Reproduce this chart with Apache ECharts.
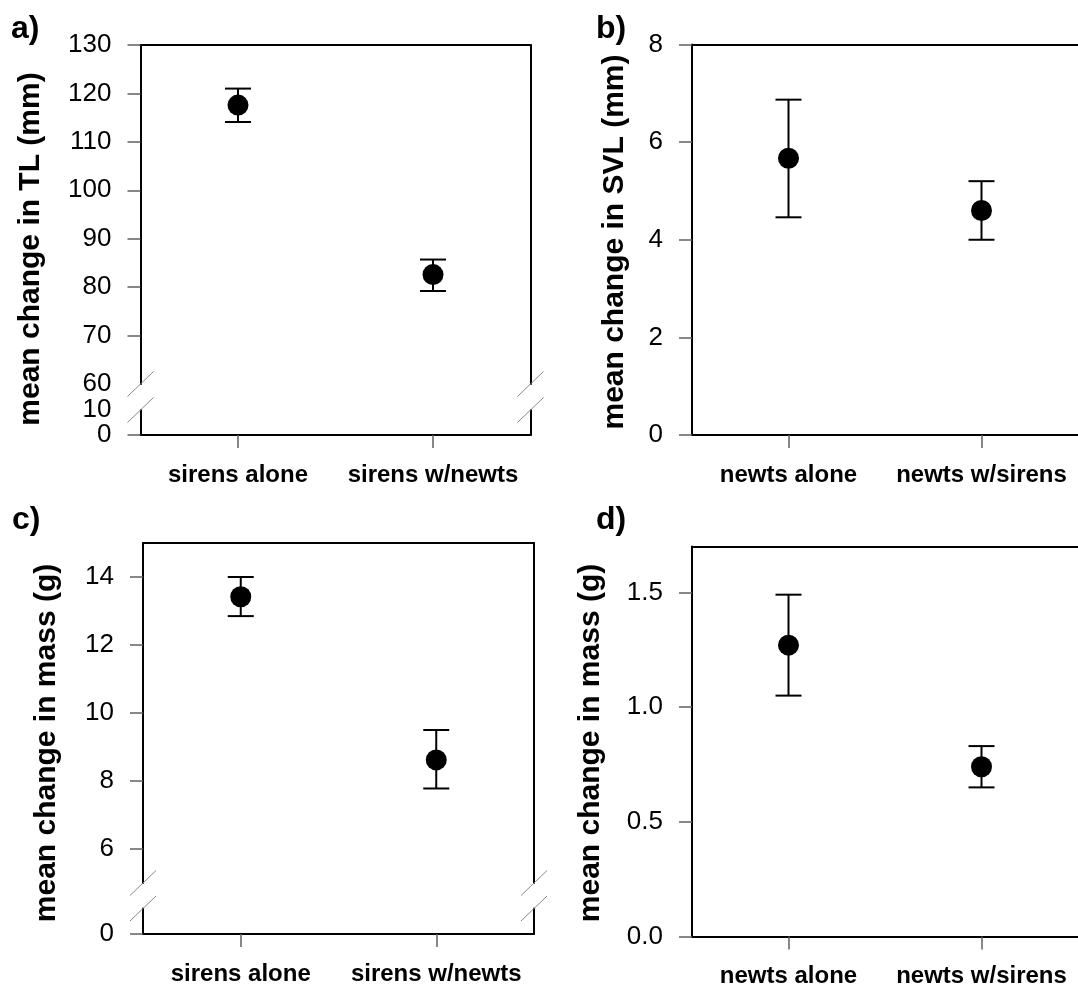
<!DOCTYPE html>
<html>
<head>
<meta charset="utf-8">
<script src="https://cdn.jsdelivr.net/npm/echarts@6/dist/echarts.min.js"></script>
<style>
  html, body { margin: 0; padding: 0; background: #fff; }
  #main { width: 1078px; height: 989px; }
</style>
</head>
<body>
<div id="main"></div>
<script>
// categories
var sirenCats = ['sirens alone', 'sirens w/newts'];
var newtCats = ['newts alone', 'newts w/sirens'];

// a) change in TL (mm), sirens
var tlMean = [117.6, 82.6];
var tlLow = [114.1, 79.2];
var tlHigh = [121.0, 85.7];
// b) change in SVL (mm), newts
var svlMean = [5.67, 4.6];
var svlLow = [4.46, 4.0];
var svlHigh = [6.87, 5.2];
// c) change in mass (g), sirens
var sirenMassMean = [13.42, 8.62];
var sirenMassLow = [12.85, 7.78];
var sirenMassHigh = [14.0, 9.5];
// d) change in mass (g), newts
var newtMassMean = [1.27, 0.74];
var newtMassLow = [1.05, 0.65];
var newtMassHigh = [1.49, 0.83];

// tick labels
var tlTicksUpper = [60, 70, 80, 90, 100, 110, 120, 130];
var tlTicksLower = [0, 10];
var svlTicks = [0, 2, 4, 6, 8];
var sirenMassTicksUpper = [6, 8, 10, 12, 14];
var sirenMassTicksLower = [0];
var newtMassTicks = [0, 0.5, 1.0, 1.5];

var FONT = '"Liberation Sans", Arial, sans-serif';
var tickColor = '#606060';

var chart = echarts.init(document.getElementById('main'), null, { renderer: 'canvas' });

// grid boxes (pixels)
var G = [
  { left: 140.5, top: 45, width: 390, height: 339 },   // a upper
  { left: 140.5, top: 410, width: 390, height: 25 },   // a lower
  { left: 692, top: 44.5, width: 390, height: 390.5 }, // b
  { left: 143, top: 543, width: 391, height: 340 },    // c upper
  { left: 143, top: 908.5, width: 391, height: 25.5 }, // c lower
  { left: 692, top: 546.5, width: 390, height: 390 }   // d
];

function borderX(gridIndex, cats, position) {
  return {
    type: 'category', gridIndex: gridIndex, data: cats, position: position,
    axisLine: { show: true, lineStyle: { color: '#000', width: 2 } },
    axisTick: { show: false }, axisLabel: { show: false }, splitLine: { show: false }
  };
}
function labelX(gridIndex, cats) {
  return {
    type: 'category', gridIndex: gridIndex, data: cats, position: 'bottom',
    axisLine: { show: true, lineStyle: { color: '#000', width: 2 } },
    axisTick: { show: true, alignWithLabel: true, interval: 0, length: 13, lineStyle: { color: tickColor, width: 1.5 } },
    axisLabel: { show: true, interval: 0, margin: 28, color: '#000', fontSize: 24, fontWeight: 'bold', fontFamily: FONT },
    splitLine: { show: false }
  };
}
function labelY(gridIndex, min, max, labels, ticks, fmt, noLine) {
  return {
    type: 'value', gridIndex: gridIndex, position: 'left', min: min, max: max,
    axisLine: { show: !noLine, lineStyle: { color: '#000', width: 2 } },
    axisTick: { show: ticks.length > 0, customValues: ticks, length: 13, lineStyle: { color: tickColor, width: 1.5 } },
    axisLabel: { show: true, customValues: labels, margin: 29, color: '#000', fontSize: 26, fontFamily: FONT,
      showMinLabel: true, showMaxLabel: true, hideOverlap: false,
      formatter: fmt || function (v) { return String(v); } },
    splitLine: { show: false }
  };
}
function borderY(gridIndex, min, max) {
  return {
    type: 'value', gridIndex: gridIndex, position: 'right', min: min, max: max,
    axisLine: { show: true, lineStyle: { color: '#000', width: 2 } },
    axisTick: { show: false }, axisLabel: { show: false }, splitLine: { show: false }
  };
}

function errorBars(xi, yi, low, high) {
  return {
    type: 'custom', xAxisIndex: xi, yAxisIndex: yi, z: 3,
    data: low.map(function (v, i) { return [i, v, high[i]]; }),
    encode: { x: 0, y: [1, 2] },
    renderItem: function (params, api) {
      var top = api.coord([api.value(0), api.value(2)]);
      var bot = api.coord([api.value(0), api.value(1)]);
      var half = 13;
      var st = { stroke: '#000', lineWidth: 2 };
      return {
        type: 'group', children: [
          { type: 'line', shape: { x1: top[0], y1: top[1], x2: bot[0], y2: bot[1] }, style: st },
          { type: 'line', shape: { x1: top[0] - half, y1: top[1], x2: top[0] + half, y2: top[1] }, style: st },
          { type: 'line', shape: { x1: bot[0] - half, y1: bot[1], x2: bot[0] + half, y2: bot[1] }, style: st }
        ]
      };
    }
  };
}
function means(xi, yi, vals) {
  return {
    type: 'scatter', xAxisIndex: xi, yAxisIndex: yi, z: 5,
    symbol: 'circle', symbolSize: 21, itemStyle: { color: '#000', opacity: 1 },
    data: vals.map(function (v, i) { return [i, v]; })
  };
}

// break slashes drawn on the box edges between split grids
function slashes(upper, lower) {
  var out = [];
  var xs = [upper.left, upper.left + upper.width];
  var ys = [upper.top + upper.height, lower.top];
  xs.forEach(function (cx) {
    ys.forEach(function (cy) {
      out.push({ type: 'line', z: 10,
        shape: { x1: cx - 13, y1: cy + 12.5, x2: cx + 13, y2: cy - 12.5 },
        style: { stroke: '#888', lineWidth: 1 } });
    });
  });
  return out;
}
function yName(text, cx, cy) {
  return { type: 'text', x: cx, y: cy, rotation: Math.PI / 2,
    style: { text: text, align: 'center', verticalAlign: 'middle', fill: '#000',
      font: 'bold 30px ' + FONT } };
}
function panelTag(text, x, y) {
  return { type: 'text', x: x, y: y,
    style: { text: text, align: 'left', verticalAlign: 'middle', fill: '#000', font: 'bold 32px ' + FONT } };
}

var fmt1 = function (v) { return v.toFixed(1); };

var option = {
  backgroundColor: '#fff',
  animation: false,
  grid: G,
  xAxis: [
    borderX(0, sirenCats, 'top'),   // 0
    labelX(1, sirenCats),           // 1
    labelX(2, newtCats),            // 2
    borderX(2, newtCats, 'top'),    // 3
    borderX(3, sirenCats, 'top'),   // 4
    labelX(4, sirenCats),           // 5
    labelX(5, newtCats),            // 6
    borderX(5, newtCats, 'top')     // 7
  ],
  yAxis: [
    labelY(0, 60, 130, tlTicksUpper, tlTicksUpper.slice(1)),   // 0
    borderY(0, 60, 130),                                        // 1
    labelY(1, 0, 10, tlTicksLower.slice(0, 1), [0]),            // 2
    borderY(1, 0, 10),                                          // 3
    labelY(2, 0, 8, svlTicks, svlTicks),                        // 4
    labelY(3, 5, 15, sirenMassTicksUpper, sirenMassTicksUpper), // 5
    borderY(3, 5, 15),                                          // 6
    labelY(4, 0, 0.75, sirenMassTicksLower, sirenMassTicksLower), // 7
    borderY(4, 0, 0.75),                                        // 8
    labelY(5, 0, 1.7, newtMassTicks, newtMassTicks, fmt1),      // 9
    labelY(1, 0, 10, tlTicksLower.slice(1), [], null, true)     // 10: "10" label of lower segment
  ],
  series: [
    errorBars(0, 0, tlLow, tlHigh), means(0, 0, tlMean),
    errorBars(2, 4, svlLow, svlHigh), means(2, 4, svlMean),
    errorBars(4, 5, sirenMassLow, sirenMassHigh), means(4, 5, sirenMassMean),
    errorBars(6, 9, newtMassLow, newtMassHigh), means(6, 9, newtMassMean)
  ],
  graphic: [].concat(
    slashes(G[0], G[1]),
    slashes(G[3], G[4]),
    [
      yName('mean change in TL (mm)', 31, 249),
      yName('mean change in SVL (mm)', 615, 242),
      yName('mean change in mass (g)', 47, 743),
      yName('mean change in mass (g)', 591, 743),
      panelTag('a)', 11, 29),
      panelTag('b)', 596, 29),
      panelTag('c)', 12, 520),
      panelTag('d)', 596, 520)
    ]
  )
};

chart.setOption(option);
</script>
</body>
</html>
